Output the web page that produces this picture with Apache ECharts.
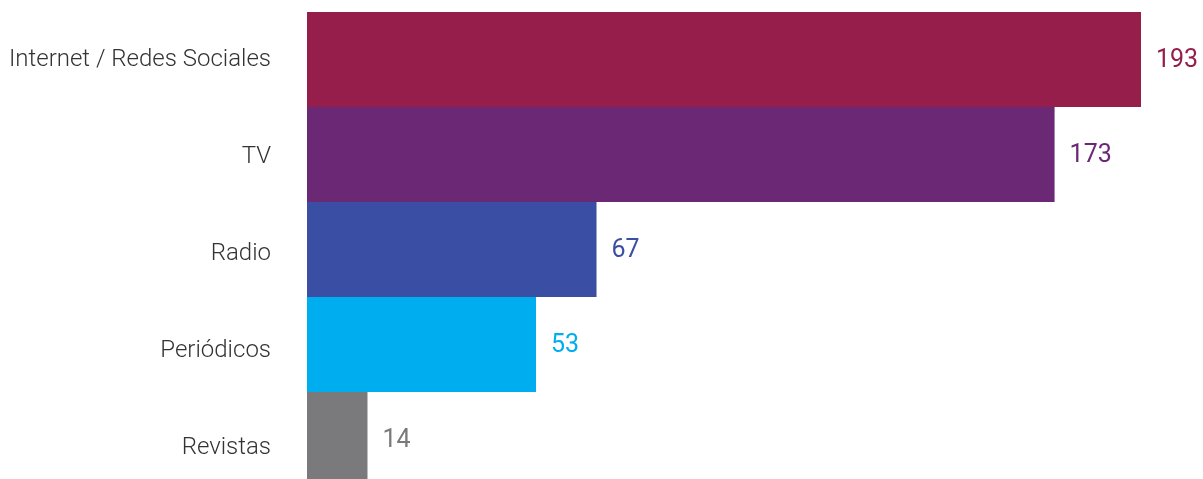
<!DOCTYPE html>
<html>
<head>
<meta charset="utf-8">
<script src="https://cdn.jsdelivr.net/npm/echarts@6/dist/echarts.min.js"></script>
<style>
  html, body { margin: 0; padding: 0; background: #fff; }
  #chart { width: 1203px; height: 479px; }
</style>
</head>
<body>
<div id="chart"></div>
<script>
// categorias de medios (de arriba hacia abajo)
const categories = ['Internet / Redes Sociales', 'TV', 'Radio', 'Periódicos', 'Revistas']
const values = [193, 173, 67, 53, 14]
const colors = ['#961e4a', '#6b2874', '#3a4fa3', '#00aeef', '#7a7a7c']

const chart = echarts.init(document.getElementById('chart'))

const option = {
  animation: false,
  grid: [
    // barras
    { left: 307, right: 62, top: 12, height: 475, outerBoundsMode: 'none', containLabel: false },
    // solo etiquetas de categoria (espaciado un poco mayor en el original)
    { left: 307, right: 62, top: 11, height: 485, outerBoundsMode: 'none', containLabel: false }
  ],
  xAxis: [
    { type: 'value', gridIndex: 0, min: 0, max: 193, show: false },
    { type: 'value', gridIndex: 1, min: 0, max: 193, show: false }
  ],
  yAxis: [
    {
      type: 'category',
      gridIndex: 0,
      inverse: true,
      data: categories,
      axisLine: { show: false },
      axisTick: { show: false },
      axisLabel: { show: false }
    },
    {
      type: 'category',
      gridIndex: 1,
      inverse: true,
      data: categories,
      axisLine: { show: false },
      axisTick: { show: false },
      axisLabel: {
        margin: 36,
        color: '#333',
        fontFamily: 'Roboto',
        fontWeight: 300,
        fontSize: 24
      }
    }
  ],
  series: [
    {
      type: 'bar',
      xAxisIndex: 0,
      yAxisIndex: 0,
      barCategoryGap: 0,
      data: values.map((v, i) => ({
        value: v,
        itemStyle: { color: colors[i] },
        label: { color: colors[i] }
      })),
      label: {
        show: true,
        position: 'right',
        distance: 15,
        offset: [0, 1],
        fontFamily: 'Roboto',
        fontSize: 25
      }
    }
  ]
}
chart.setOption(option)
</script>
</body>
</html>
